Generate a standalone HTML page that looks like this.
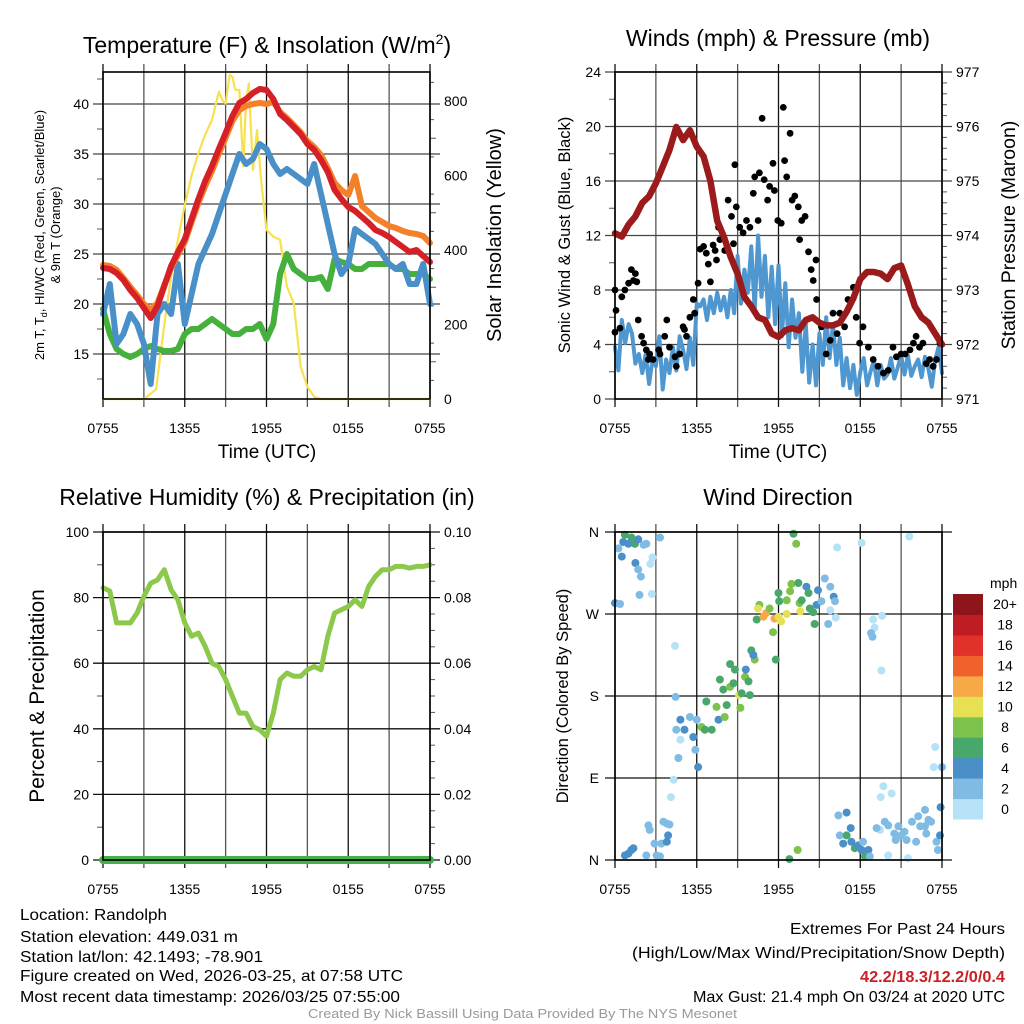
<!DOCTYPE html>
<html><head><meta charset="utf-8"><style>
html,body{margin:0;padding:0;background:#fff;width:1024px;height:1024px;overflow:hidden}
svg{display:block;font-family:"Liberation Sans",Arial,sans-serif}
</style></head><body>
<svg id="fig" width="1024" height="1024" viewBox="0 0 1024 1024">
<text x="267" y="53" font-size="23" text-anchor="middle">Temperature (F) &amp; Insolation (W/m<tspan font-size="14" dy="-9">2</tspan><tspan dy="9">)</tspan></text>
<text x="778" y="46" font-size="23" text-anchor="middle">Winds (mph) &amp; Pressure (mb)</text>
<text x="267" y="505" font-size="23" text-anchor="middle">Relative Humidity (%) &amp; Precipitation (in)</text>
<text x="778" y="505" font-size="23" text-anchor="middle">Wind Direction</text>

<text x="267" y="458" font-size="19" text-anchor="middle">Time (UTC)</text>
<text x="778" y="458" font-size="19" text-anchor="middle">Time (UTC)</text>

<text transform="translate(44,235) rotate(-90)" font-size="13" text-anchor="middle">2m T, T<tspan font-size="9" dy="3">d</tspan><tspan dy="-3">, HI/WC (Red, Green, Scarlet/Blue)</tspan></text>
<text transform="translate(60,235) rotate(-90)" font-size="13" text-anchor="middle">&amp; 9m T (Orange)</text>
<text transform="translate(501,235) rotate(-90)" font-size="20" text-anchor="middle">Solar Insolation (Yellow)</text>
<text transform="translate(570,235) rotate(-90)" font-size="16.5" text-anchor="middle">Sonic Wind &amp; Gust (Blue, Black)</text>
<text transform="translate(1015,235) rotate(-90)" font-size="19.5" text-anchor="middle">Station Pressure (Maroon)</text>
<text transform="translate(44,696) rotate(-90)" font-size="21" text-anchor="middle">Percent &amp; Precipitation</text>
<text transform="translate(568,696) rotate(-90)" font-size="16.5" text-anchor="middle">Direction (Colored By Speed)</text>

<g font-size="16">
<text x="20" y="920" textLength="147" lengthAdjust="spacingAndGlyphs">Location: Randolph</text>
<text x="20" y="942" textLength="218" lengthAdjust="spacingAndGlyphs">Station elevation: 449.031 m</text>
<text x="20" y="962" textLength="243" lengthAdjust="spacingAndGlyphs">Station lat/lon: 42.1493; -78.901</text>
<text x="20" y="981" textLength="383" lengthAdjust="spacingAndGlyphs">Figure created on Wed, 2026-03-25, at 07:58 UTC</text>
<text x="20" y="1002" textLength="380" lengthAdjust="spacingAndGlyphs">Most recent data timestamp: 2026/03/25 07:55:00</text>
</g>
<g font-size="16">
<text x="790" y="934" textLength="215" lengthAdjust="spacingAndGlyphs">Extremes For Past 24 Hours</text>
<text x="632" y="958" textLength="373" lengthAdjust="spacingAndGlyphs">(High/Low/Max Wind/Precipitation/Snow Depth)</text>
<text x="860" y="982" textLength="145" lengthAdjust="spacingAndGlyphs" fill="#cc1f24" font-weight="bold">42.2/18.3/12.2/0/0.4</text>
<text x="693" y="1002" textLength="312" lengthAdjust="spacingAndGlyphs">Max Gust: 21.4 mph On 03/24 at 2020 UTC</text>
</g>
<text x="308" y="1018" font-size="13" fill="#999" textLength="429" lengthAdjust="spacingAndGlyphs">Created By Nick Bassill Using Data Provided By The NYS Mesonet</text>
</svg>
<script>
// ---------- data ----------
const xTickLabels = ["0755","1355","1955","0155","0755"];
const halfHours = [0,0.5,1,1.5,2,2.5,3,3.5,4,4.5,5,5.5,6,6.5,7,7.5,8,8.5,9,9.5,10,10.5,11,11.5,12,12.5,13,13.5,14,14.5,15,15.5,16,16.5,17,17.5,18,18.5,19,19.5,20,20.5,21,21.5,22,22.5,23,23.5,24];
const tempRed = [23.6,23.5,23.1,22.4,21.4,20.6,19.6,18.6,19.8,21.8,23.8,25.2,26.5,28.5,30.5,32.3,33.8,35.5,37.1,38.8,40.1,40.5,41.1,41.5,41.4,40.5,39.0,38.4,37.7,37.0,36.0,35.4,34.4,33.2,31.4,30.5,29.7,29.3,28.7,28.1,27.4,27.1,26.7,26.2,25.7,25.2,25.4,24.8,24.2];
const tempOrange = [23.9,23.8,23.4,22.6,21.7,20.9,20.0,19.4,20.1,21.9,23.6,24.9,26.2,28.2,30.1,31.8,33.3,35.0,36.6,38.3,39.4,39.8,40.0,40.1,40.0,40.2,39.2,38.6,37.9,37.2,36.3,35.7,34.9,33.6,32.1,31.4,30.9,32.8,29.8,29.2,28.6,28.2,27.8,27.6,27.3,27.1,27.0,26.8,26.1];
const tempBlue = [19,22,16,17,19,18,16,12,19,20,19,24,18,21,24,25.5,27,29,31,33,35,34,34.5,36,35.5,34,33,33.5,33,32.5,32,34,31,28,25,23,24,27.5,27,26.5,26,25,24,23.5,24,22,22,24,20];
const tempGreen = [19.5,17,15.5,15,14.7,15,15.5,15.8,15.5,15.3,15.3,15.5,17,17.5,17.5,18,18.5,18,17.5,17,17,17.5,17.5,18,16.5,18,23,25,23.5,23,22.5,22.5,22.7,21.5,24.5,24.2,24,23.5,23.5,24,24,24,24,23.5,23.5,23,23,23,22.5];
const solarHours = [0,3,3.9,4.5,5,5.5,6,6.5,7,7.5,8,8.5,8.8,9,9.3,9.5,9.7,10,10.3,10.5,10.7,11,11.3,11.6,12,12.5,13,13.5,14,14.5,15,15.5,16,24];
const solarValues = [0,0,26,200,330,427,521,600,660,710,749,825,800,793,870,865,830,830,624,800,847,615,722,588,454,436,427,302,257,87,33,6,0,0];
const windValues = [3.8,2.1,5.8,4.1,5.5,4.8,2.6,3.3,1.9,3.3,1.1,2.9,2.4,4.6,0.7,2.9,1.9,3.8,2.1,4.6,3.6,2.2,4.5,2.5,7.0,6.8,7.3,5.8,7.5,6.3,7.8,6.5,7.5,6.0,8.0,6.3,10.5,7.0,9.5,7.8,11.2,6.5,12.0,7.5,10.5,6.0,9.7,5.5,9.8,4.6,8.5,3.8,7.3,4.5,6.3,2.0,5.5,1.2,4.0,1.0,4.8,2.5,6.0,3.0,5.5,2.5,4.5,1.0,3.0,0.8,2.5,0.3,2.0,3.0,1.0,2.0,2.8,1.0,2.5,1.5,1.8,3.0,1.5,2.3,3.2,1.8,3.2,1.7,2.4,2.9,1.6,3.1,2.2,0.9,2.9,3.8,1.9];
const gustHours = [0,0.07,0,0.37,0.5,0.73,1.0,1.2,1.35,1.5,1.6,1.7,1.95,2.1,2.3,2.55,2.45,2.8,3.2,3.3,3.65,3.8,4.0,4.4,4.5,4.75,5.0,5.1,5.25,5.5,5.75,5.85,6.1,6.25,6.5,6.7,6.85,7.0,7.2,7.35,7.45,7.6,7.7,7.95,8.05,8.3,8.55,8.7,8.8,8.9,9.15,9.4,9.65,9.9,10.15,10.25,10.5,10.6,10.8,10.95,11.2,11.35,11.6,11.7,11.95,12.2,12.35,12.45,12.6,12.85,13.0,13.2,13.45,13.7,13.95,13.55,14.2,14.4,14.55,14.75,14.8,15.15,15.5,15.8,16.0,16.3,16.5,16.85,17.1,17.5,17.7,17.95,18.2,18.6,18.95,19.3,19.7,20.05,20.4,20.65,21.0,21.3,21.65,21.9,22.1,22.35,22.6,22.85,23.1,23.35,23.6,23.85];
const gustValues = [8.0,6.5,4.9,5.2,7.5,8.0,8.5,9.5,8.7,9.2,8.6,5.8,4.6,4.1,3.6,3.3,2.9,2.9,3.6,3.3,4.6,5.8,3.8,3.1,2.4,3.3,5.3,5.1,4.6,6.0,7.3,6.3,8.5,11.0,11.2,10.7,9.9,8.6,11.3,10.9,10.2,12.6,11.7,11.9,10.9,14.6,13.4,11.4,17.2,14.1,12.6,12.2,13.1,12.6,15.1,16.3,13.1,16.6,20.6,16.1,14.6,15.6,17.3,15.3,13.1,12.9,21.4,17.5,16.3,19.5,14.6,14.9,14.1,13.1,13.4,11.7,10.8,9.5,8.7,10.2,7.3,5.3,3.3,4.3,6.3,4.8,6.3,5.3,7.3,8.2,6.0,4.1,5.3,3.8,2.9,2.4,1.9,2.1,3.8,3.1,3.3,3.3,3.6,4.1,4.6,3.8,4.1,2.6,2.9,2.4,2.9,4.1];
const pressureValues = [974.04,973.98,974.2,974.35,974.6,974.72,974.96,975.26,975.57,975.99,975.75,975.93,975.63,975.45,975.0,974.27,973.97,973.6,973.3,972.87,972.7,972.5,972.45,972.2,972.14,972.26,972.3,972.26,972.45,972.5,972.4,972.35,972.35,972.4,972.6,972.85,973.2,973.33,973.33,973.3,973.2,973.4,973.45,973.1,972.7,972.5,972.4,972.2,972.0];
const rhValues = [83,82,72.3,72.3,72.3,75.3,80.4,84.4,85.4,88.5,82.4,79.3,72.3,68.2,69.2,65.1,60,59,55,49.9,44.8,44.8,40.7,39.7,37.7,44.8,55,57,56,56,58,59,58,68.2,75.3,76.3,77.3,79.3,77.3,83.4,86.5,88.5,88.5,89.5,89.5,89,89.5,89.5,90];
const precipValues = [0,0,0,0,0,0,0,0,0,0,0,0,0,0,0,0,0,0,0,0,0,0,0,0,0,0,0,0,0,0,0,0,0,0,0,0,0,0,0,0,0,0,0,0,0,0,0,0,0];
const dirHours = [0.73,1.2,1.46,0.6,0.98,1.7,0.25,0.5,2.1,2.3,1.5,1.7,1.9,2.6,2.75,3.3,1.8,2.7,0,0.37,4.4,4.45,4.8,5.1,4.5,5.5,5.75,5.9,6.1,4.8,4.65,4.3,4.1,6.0,6.35,6.6,6.7,7.1,7.45,7.6,8.05,8.2,7.7,7.95,8.45,8.7,9.1,9.2,9.3,9.9,9.55,9.8,8.8,8.45,9.6,10.0,10.25,10.15,11.8,11.6,10.4,10.6,10.5,10.9,11.1,11.35,11.7,12,12.2,12.6,12,12.05,12.6,12.85,12.95,13.45,13.55,13.7,13.6,14.05,14.2,14.3,14.55,14.65,14.8,14.9,15.15,15.4,15.8,16.05,16.15,15.65,16.2,15.8,13.1,13.3,16.3,18.1,21.6,18.95,19.6,19.05,18.8,18.9,19.55,23.5,23.4,24,0.73,0.98,1.2,1.35,2.3,2.45,2.55,2.9,3.05,3.3,3.4,3.55,3.8,4.0,3.9,3.8,12.8,13.4,16.4,17,16.5,16.75,17,17.3,17.35,17.6,17.85,18.1,18.2,18.35,18.6,18.7,19.45,19.7,20.3,19.5,20.05,19.2,19.8,20.05,20.5,20.8,21,21.25,21.5,21.8,22.25,22.4,22.75,23,23.2,22.85,22.1,23.6,23.7,23.85,23.9,22.75,20.6,21.4];
const dirDegrees = [357,354,347,349,347,352,342,333,346,347,326,319,311,325,332,354,291,292,282,281,235,179,154,143,143,157,135,121,102,132,112,88,69,154,146,143,174,143,168,154,157,170,198,187,190,194,181,167,183,181,201,196,209,215,209,230,220,225,220,250,264,280,276,267,271,276,265,267,262,270,293,284,285,295,303,304,282,285,273,300,293,276,272,259,280,296,284,309,300,289,284,259,266,274,358,347,343,348,355,264,268,255,249,245,208,124,102,102,5,7,11,13,5,38,33,18,5,4,18,42,40,39,27,20,1,11,49,52,27,18,27,35,20,13,16,11,20,4,11,4,33,81,73,69,5,35,42,38,29,37,27,31,2,42,48,37,55,44,42,29,20,20,11,27,58,37,22,22];
const dirSpeeds = [7,7,7,5,5,5,3,5,3,3,5,3,3,1,1,3,3,1,5,3,1,3,5,5,3,3,5,3,5,1,3,1,1,3,9,7,7,7,9,5,9,7,7,7,9,7,11,9,7,7,9,7,7,7,5,7,9,5,7,9,7,9,11,13,13,9,13,11,11,11,7,7,9,9,9,7,9,7,11,5,7,7,7,7,5,5,3,3,3,5,3,3,1,1,7,9,1,1,1,1,1,1,3,3,1,1,1,3,5,5,5,5,3,3,3,3,3,3,3,3,3,3,5,5,7,9,3,5,3,5,7,5,5,7,5,5,3,7,5,3,1,1,1,1,1,3,3,3,3,3,3,3,1,3,3,3,3,3,3,3,3,3,3,5,5,3,3,3];
const speedBinLabels = ["0","2","4","6","8","10","12","14","16","18","20+"];
const speedBinColors = ["#b5e2f6","#80bbe4","#4a8fc7","#48a86b","#7dc24a","#e6e055","#f6a946","#f0622c","#e03229","#bf1c24","#8e1519"];

// ---------- helpers ----------
const NS = "http://www.w3.org/2000/svg";
const svg = document.getElementById("fig");
function mk(tag, attrs, parent){
  const e = document.createElementNS(NS, tag);
  for (const k in attrs) e.setAttribute(k, attrs[k]);
  (parent||svg).appendChild(e);
  return e;
}
function linScale(d0,d1,r0,r1){ return v => r0 + (v-d0)/(d1-d0)*(r1-r0); }

function panel(name, box){
  const g = mk("g", {});
  
  
  for (let i=0;i<=8;i++){
    const x = box.x0 + (box.x1-box.x0)*i/8;
    const l = mk("line",{x1:x,x2:x,y1:box.y0-8,y2:box.y1+8,stroke:(i%2? "#555":"#111"),"stroke-width":1.3},g);
    
    
  }
  xTickLabels.forEach((t,i)=>{
    const x = box.x0 + (box.x1-box.x0)*i/4;
    const tx = mk("text",{x:x,y:box.y1+34,"font-size":14,"text-anchor":"middle"},g);
    tx.textContent = t;
    
    
  });
  return g;
}
function hGrid(g, box, ys, dark){
  ys.forEach(y=>{
    const l = mk("line",{x1:box.x0-10,x2:box.x1+10,y1:y,y2:y,stroke:dark?"#111":"#444","stroke-width":1.3},g);
    
    
  });
}
function ticks(g, x, ys, len){
  ys.forEach(y=>{ mk("line",{x1:x,x2:x+len,y1:y,y2:y,stroke:"#555","stroke-width":1},g); });
}
function label(g, x, y, txt, anchor, name){
  const t = mk("text",{x:x,y:y+5,"font-size":14,"text-anchor":anchor},g);
  t.textContent = txt;
  
  
}
function frame(g, box){
  mk("rect",{x:box.x0,y:box.y0,width:box.x1-box.x0,height:box.y1-box.y0,fill:"none",stroke:"#000","stroke-width":1.6},g);
}
function polyline(g, xs, ys, xS, yS, color, w, name){
  let d = "";
  xs.forEach((h,i)=>{ d += (i? "L":"M") + xS(h).toFixed(1) + "," + yS(ys[i]).toFixed(1); });
  const p = mk("path",{d:d,fill:"none",stroke:color,"stroke-width":w,"stroke-linejoin":"round","stroke-linecap":"round"},g);
  
  
  return p;
}

// ---------- panel 1: temperature ----------
const B1 = {x0:103,x1:430,y0:72,y1:399};
const g1 = panel("temperature", B1);
const x1S = linScale(0,24,B1.x0,B1.x1);
const tS = linScale(40,15,104,354);
const solS = linScale(0,800,399,101);
hGrid(g1, B1, [15,20,25,30,35,40].map(tS), false);
[15,20,25,30,35,40].forEach(v=>label(g1,B1.x0-14,tS(v),String(v),"end","temp-tick-label"));
ticks(g1, B1.x0-6, [12.5,17.5,22.5,27.5,32.5,37.5,42.5].map(tS), 6);
[0,200,400,600,800].forEach(v=>label(g1,B1.x1+14,solS(v),String(v),"start","insolation-tick-label"));
ticks(g1, B1.x1, [100,300,500,700].map(solS), 6);
ticks(g1, B1.x1, [50,150,250,350,450,550,650,750,850].map(solS), 4);
polyline(g1, solarHours, solarValues, x1S, solS, "#f8e04e", 2.2, "insolation-line");
polyline(g1, halfHours, tempGreen, x1S, tS, "#46b03d", 6, "dewpoint-line");
polyline(g1, halfHours, tempBlue, x1S, tS, "#4a90c8", 6, "windchill-line");
polyline(g1, halfHours, tempOrange, x1S, tS, "#f48029", 6, "temp-9m-line");
polyline(g1, halfHours, tempRed, x1S, tS, "#d42026", 6, "temp-2m-line");
frame(g1, B1);

// ---------- panel 2: wind & pressure ----------
const B2 = {x0:615,x1:942,y0:72,y1:399};
const g2 = panel("wind", B2);
const x2S = linScale(0,24,B2.x0,B2.x1);
const wS = linScale(0,24,399,72);
const pS = linScale(971,977,399,72);
hGrid(g2, B2, [0,4,8,12,16,20,24].map(wS), false);
[0,4,8,12,16,20,24].forEach(v=>label(g2,B2.x0-14,wS(v),String(v),"end","wind-tick-label"));
ticks(g2, B2.x0-6, [2,6,10,14,18,22].map(wS), 6);
[971,972,973,974,975,976,977].forEach(v=>label(g2,B2.x1+14,pS(v),String(v),"start","pressure-tick-label"));
const pm=[]; for(let k=1;k<30;k++){ if(k%5) pm.push(971+k*0.2); }
ticks(g2, B2.x1, pm.map(pS), 5);
const windHours = windValues.map((v,i)=>i*0.25);
polyline(g2, windHours, windValues, x2S, wS, "#4f97d0", 4, "sonic-wind-line");
gustHours.forEach((h,i)=>{
  const c = mk("circle",{cx:x2S(h).toFixed(1),cy:wS(gustValues[i]).toFixed(1),r:3.4,fill:"#000"},g2);
  
  
});
polyline(g2, halfHours, pressureValues, x2S, pS, "#9b1a1c", 6.5, "pressure-line");
frame(g2, B2);

// ---------- panel 3: RH ----------
const B3 = {x0:103,x1:430,y0:532,y1:860};
const g3 = panel("humidity", B3);
const x3S = linScale(0,24,B3.x0,B3.x1);
const rS = linScale(0,100,860,532);
const prS = linScale(0,0.1,860,532);
hGrid(g3, B3, [0,20,40,60,80,100].map(rS), true);
[0,20,40,60,80,100].forEach(v=>label(g3,B3.x0-14,rS(v),String(v),"end","rh-tick-label"));
ticks(g3, B3.x0-6, [10,30,50,70,90].map(rS), 6);
["0.00","0.02","0.04","0.06","0.08","0.10"].forEach(v=>label(g3,B3.x1+14,prS(+v),v,"start","precip-tick-label"));
ticks(g3, B3.x1, [0.005,0.01,0.015,0.025,0.03,0.035,0.045,0.05,0.055,0.065,0.07,0.075,0.085,0.09,0.095].map(prS), 5);
polyline(g3, halfHours, rhValues, x3S, rS, "#8cc84b", 5, "rh-line");
polyline(g3, halfHours, precipValues, x3S, prS, "#46b04a", 8, "precip-line");
frame(g3, B3);

// ---------- panel 4: wind direction ----------
const B4 = {x0:615,x1:942,y0:532,y1:860};
const g4 = panel("direction", B4);
const x4S = linScale(0,24,B4.x0,B4.x1);
const dS = linScale(0,360,860,532);
hGrid(g4, B4, [0,90,180,270,360].map(dS), true);
[["N",0],["E",90],["S",180],["W",270],["N",360]].forEach(a=>label(g4,B4.x0-16,dS(a[1]),a[0],"end","direction-tick-label"));
dirHours.forEach((h,i)=>{
  const bin = Math.min(10, Math.floor(dirSpeeds[i]/2));
  const c = mk("circle",{cx:x4S(h).toFixed(1),cy:dS(dirDegrees[i]).toFixed(1),r:4,fill:speedBinColors[bin]},g4);
  
  
});
frame(g4, B4);

// colorbar
const cb = mk("g",{});


const cbTop = 594, cbBot = 819, cbH = (cbBot-cbTop)/speedBinLabels.length;
const mphT = mk("text",{x:990,y:588,"font-size":14},cb);
mphT.textContent = "mph";
speedBinLabels.forEach((lab,i)=>{
  const y = cbBot - (i+1)*cbH;
  const r = mk("rect",{x:953,y:y.toFixed(1),width:30,height:(cbH+0.5).toFixed(1),fill:speedBinColors[i]},cb);
  
  
  const t = mk("text",{x:1005,y:(y+cbH/2+5).toFixed(1),"font-size":14,"text-anchor":"middle"},cb);
  t.textContent = lab;
  
  
});
</script>
</body></html>
